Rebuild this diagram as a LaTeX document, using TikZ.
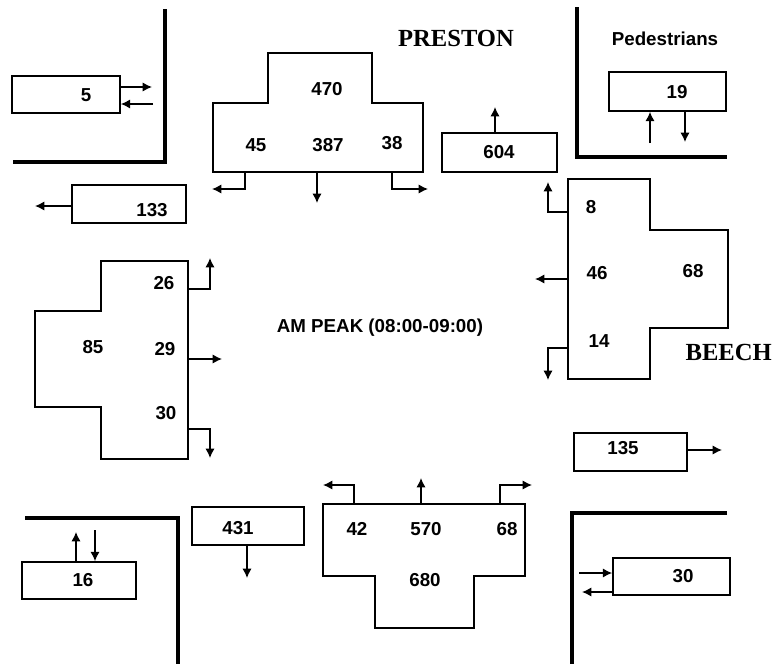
\documentclass[tikz,border=0pt]{standalone}
\usepackage{fontspec}
\setmainfont{Liberation Sans}
\newfontfamily\streetfont{Liberation Serif}
\usetikzlibrary{arrows.meta}

\tikzset{
  pbox/.style 2 args={draw,line width=1.4pt,inner sep=0pt,
    minimum width=#1*0.03cm,minimum height=#2*0.03cm},
  tee/.style={draw,line width=1.4pt},
  flow/.style={line width=1.3pt,->},
  kerb/.style={line width=2.8pt},
  street/.style={font=\streetfont\fontsize{21}{24}\selectfont\bfseries},
}

\begin{document}
\begin{tikzpicture}[x=.03cm,y=-.03cm,>={Latex[length=8pt,width=8pt]},
  font=\fontsize{16}{18}\selectfont\bfseries]
\useasboundingbox (0,0) rectangle (775,664);
\clip (0,0) rectangle (775,664);

% street corners
\draw[kerb] (165,9) -- (165,162) -- (13,162);
\draw[kerb] (577,7) -- (577,157) -- (727,157);
\draw[kerb] (25,518) -- (178,518) -- (178,664);
\draw[kerb] (727,513) -- (572,513) -- (572,664);

% street names and title
\node[street] (preston) at (456,38) {PRESTON};
\node[street,anchor=east,inner sep=0pt] (beech) at (772,352) {BEECH};
\node (peds) at (665,39) {Pedestrians};
\node (peak) at (380,328) {AM PEAK (08:00-09:00)};

% single count boxes
\node[pbox={108}{37}] (b5) at (66,94.5) {};
\node[pbox={114}{38}] (b133) at (129,204) {};
\node[pbox={115}{39}] (b604) at (499.5,152.5) {};
\node[pbox={117}{39}] (b19) at (667.5,91.5) {};
\node[pbox={113}{38}] (b135) at (630.5,452) {};
\node[pbox={114}{37}] (b16) at (79,580.5) {};
\node[pbox={112}{38}] (b431) at (248,526) {};
\node[pbox={117}{37}] (b30) at (671.5,576.5) {};

% turning count blocks
\draw[tee] (268,53) -- (372,53) -- (372,103) -- (423,103) -- (423,172)
  -- (213,172) -- (213,103) -- (268,103) -- cycle;
\draw[tee] (568,179) -- (650,179) -- (650,230) -- (728,230) -- (728,328)
  -- (650,328) -- (650,379) -- (568,379) -- cycle;
\draw[tee] (101,261) -- (188,261) -- (188,459) -- (101,459) -- (101,407)
  -- (35,407) -- (35,311) -- (101,311) -- cycle;
\draw[tee] (323,504) -- (525,504) -- (525,576) -- (474,576) -- (474,628)
  -- (375,628) -- (375,576) -- (323,576) -- cycle;

% counts
\foreach \nm/\px/\py/\val in {
  n5/86/95/5, n133/152/210/133, n604/499/152/604, n19/677/92/19,
  n135/623/448/135, n16/83/580/16, n431/238/528/431, n30b/683/576/30,
  n470/327/89/470, n45/256/145/45, n387/328/145/387, n38/392/143/38,
  n8/591/207/8, n46/597/273/46, n68r/693/271/68, n14/599/341/14,
  n26/164/283/26, n85/93/347/85, n29/165/349/29, n30l/166/413/30,
  n42/357/529/42, n570/426/529/570, n68b/507/529/68, n680/425/580/680}
  \node (\nm) at (\px,\py) {\val};

% box movements
\draw[flow] (b5.east |- 0,87) -- (152,87);
\draw[flow] (153,104) -- (b5.east |- 0,104);
\draw[flow] (b133.west |- 0,206) -- (35,206);
\draw[flow] (b604.north -| 495,0) -- (495,107);
\draw[flow] (650,143) -- (b19.south -| 650,0);
\draw[flow] (b19.south -| 685,0) -- (685,142);
\draw[flow] (b135.east |- 0,450) -- (722,450);
\draw[flow] (b16.north -| 76,0) -- (76,532);
\draw[flow] (95,530) -- (b16.north -| 95,0);
\draw[flow] (b431.south -| 247,0) -- (247,578);
\draw[flow] (579,573) -- (b30.west |- 0,573);
\draw[flow] (b30.west |- 0,592) -- (582,592);

% turning movements
\draw[flow] (245,172) |- (212,189);
\draw[flow] (317,172) -- (317,203);
\draw[flow] (392,172) |- (428,189);
\draw[flow] (568,212) -| (548,182);
\draw[flow] (568,279) -- (535,279);
\draw[flow] (568,348) -| (548,380);
\draw[flow] (188,289) -| (210,258);
\draw[flow] (188,359) -- (222,359);
\draw[flow] (188,429) -| (210,458);
\draw[flow] (354,504) |- (323,485);
\draw[flow] (421,504) -- (421,478);
\draw[flow] (500,504) |- (532,485);
\end{tikzpicture}
\end{document}
